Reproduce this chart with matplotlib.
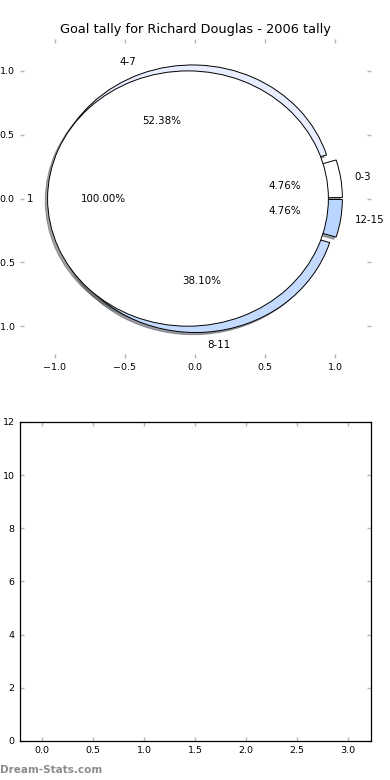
import matplotlib
matplotlib.use("Agg")
import matplotlib.pyplot as plt

# ---- data ----
outer_labels = ['0-3', '4-7', '8-11', '12-15']
outer_values = [1, 11, 8, 1]
outer_colors = ['#ffffff', '#e8eeff', '#c4dafe', '#b8d6ff']
inner_labels = ['1']
inner_values = [1]
inner_colors = ['#ffffff']
title = 'Goal tally for Richard Douglas - 2006 tally'
pie_ticks = [-1.0, -0.5, 0.0, 0.5, 1.0]
bar_xticks = [0.0, 0.5, 1.0, 1.5, 2.0, 2.5, 3.0]
bar_yticks = [0, 2, 4, 6, 8, 10, 12]

fig = plt.figure(figsize=(3.9, 7.8), dpi=100)
fig.subplots_adjust(left=0.05, right=0.95, top=0.95, bottom=0.05, hspace=0.2)
ax1 = fig.add_subplot(2, 1, 1)
ax2 = fig.add_subplot(2, 1, 2)

txt = dict(fontsize=7.4, color='black')
wp = dict(edgecolor='black', linewidth=0.7)
shad = dict(ox=-0.012, oy=-0.012)

ax1.pie(outer_values, labels=outer_labels, colors=outer_colors,
        explode=[0.05] * len(outer_values), autopct='%1.2f%%',
        shadow=shad, startangle=0, radius=1.0, wedgeprops=wp,
        textprops=txt)
ax1.pie(inner_values, labels=inner_labels, colors=inner_colors,
        explode=[0.05] * len(inner_values), autopct='%1.2f%%',
        shadow=shad, startangle=0, radius=1.0, wedgeprops=wp,
        textprops=txt)
ax1.set_aspect('auto')
ax1.set_frame_on(False)
ax1.set_xlim(-1.25, 1.25)
ax1.set_ylim(-1.25, 1.25)
ax1.set_xticks(pie_ticks)
ax1.set_yticks(pie_ticks)
ax1.set_title(title, fontsize=9.3, pad=4.3)

ax2.set_xlim(-0.22, 3.22)
ax2.set_ylim(0, 12)
ax2.set_xticks(bar_xticks)
ax2.set_yticks(bar_yticks)
for s in ax2.spines.values():
    s.set_linewidth(0.9)
    s.set_color('black')

for ax in (ax1, ax2):
    ax.tick_params(direction='in', length=3, width=1, color='#b4b4b4',
                   labelsize=6.8, top=True, right=True, pad=3.5)

fig.text(0.0, 0.0128, 'Dream-Stats.com', fontsize=7.5, fontweight='bold',
         color='#8c8c8c', ha='left', va='center')

fig.savefig('out.png', dpi=100)
